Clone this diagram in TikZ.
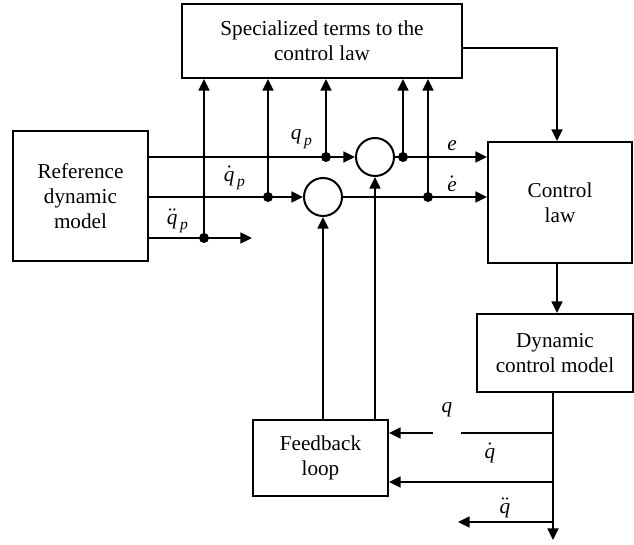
\documentclass[tikz,border=0pt]{standalone}
\usepackage{fontspec}
\setmainfont{Liberation Serif}
\usetikzlibrary{arrows.meta}
\newcommand\iq{\hbox{\itshape q}}
\newcommand\ie{\hbox{\itshape e}}
\newcommand\ip{\hbox{\fontsize{7.8}{8}\selectfont\itshape\,p}}
\begin{document}
\begin{tikzpicture}[x=0.5pt,y=-0.5pt,
  line width=1pt,
  every node/.style={font=\fontsize{10.6}{12.5}\selectfont},
  blk/.style={draw,rectangle,align=center,inner sep=0pt},
  sumc/.style={draw,circle,minimum size=19pt,inner sep=0pt},
  arr/.style={-{Triangle[length=5.8pt,width=5.4pt]}},
  dot/.style={circle,fill,inner sep=0pt,minimum size=5pt},
  lbl/.style={inner sep=0pt}]
\useasboundingbox (0,0) rectangle (634,545);
% blocks
\node[blk,minimum width=140pt,minimum height=37pt] (top) at (322,41) {Specialized terms to the\\control law};
\node[blk,minimum width=67.5pt,minimum height=65pt] (ref) at (80.5,196) {Reference\\dynamic\\model};
\node[blk,minimum width=72pt,minimum height=60.5pt] (ctrl) at (560,202.5) {Control\\law};
\node[blk,minimum width=78pt,minimum height=39pt] (dyn) at (555,353) {Dynamic\\control model};
\node[blk,minimum width=67.5pt,minimum height=38pt] (fb) at (320.5,458) {Feedback\\loop};
\node[sumc] (c1) at (375,157) {};
\node[sumc] (c2) at (323,197) {};
% junction dots
\node[dot] (d1) at (326,157) {};
\node[dot] (d2) at (268,197) {};
\node[dot] (d3) at (204,238) {};
\node[dot] (d4) at (403,157) {};
\node[dot] (d5) at (428,197) {};
% coordinates
\coordinate (r1) at (ref.east |- 0,157);
\coordinate (r2) at (ref.east |- 0,197);
\coordinate (r3) at (ref.east |- 0,238);
\coordinate (qdd) at (252,238);
\coordinate (tr) at (557,48);
\coordinate (dout) at (553,392);
\coordinate (dend) at (553,540);
\coordinate (j1) at (553,433);
\coordinate (j2) at (553,482);
\coordinate (j3) at (553,522);
\coordinate (g1) at (461,433);
\coordinate (g2) at (433,433);
\coordinate (qe) at (458,522);
% forward lines
\draw[arr] (r1) -- (c1.west);
\draw[arr] (r2) -- (c2.west);
\draw[arr] (r3) -- (qdd);
\draw[arr] (c1.east) -- (ctrl.west |- c1.east);
\draw[arr] (c2.east) -- (ctrl.west |- c2.east);
% verticals to top box
\draw[arr] (d3.center) -- (d3 |- top.south);
\draw[arr] (d2.center) -- (d2 |- top.south);
\draw[arr] (d1.center) -- (d1 |- top.south);
\draw[arr] (d4.center) -- (d4 |- top.south);
\draw[arr] (d5.center) -- (d5 |- top.south);
% top to control law
\draw[arr] (top.east |- tr) -- (tr) -- (ctrl.north -| tr);
\draw[arr] (ctrl.south -| tr) -- (dyn.north -| tr);
% output and feedback
\draw[arr] (dout) -- (dend);
\draw (j1) -- (g1);
\draw[arr] (g2) -- (fb.east |- g2);
\draw[arr] (j2) -- (fb.east |- j2);
\draw[arr] (j3) -- (qe);
\draw[arr] (fb.north -| c2.south) -- (c2.south);
\draw[arr] (fb.north -| c1.south) -- (c1.south);
% labels
\node[lbl] (lqp) at (302,139) {$\iq_{\ip}$};
\node[lbl] (lqdp) at (235,178) {$\dot{\iq}_{\ip}$};
\node[lbl] (lqddp) at (178,221) {$\ddot{\iq}_{\ip}$};
\node[lbl] (le) at (452,146) {$\ie$};
\node[lbl] (led) at (452,184) {$\dot{\ie}$};
\node[lbl] (lq) at (447,410) {$\iq$};
\node[lbl] (lqd) at (490,453) {$\dot{\iq}$};
\node[lbl] (lqdd) at (505,508) {$\ddot{\iq}$};
\end{tikzpicture}
\end{document}
